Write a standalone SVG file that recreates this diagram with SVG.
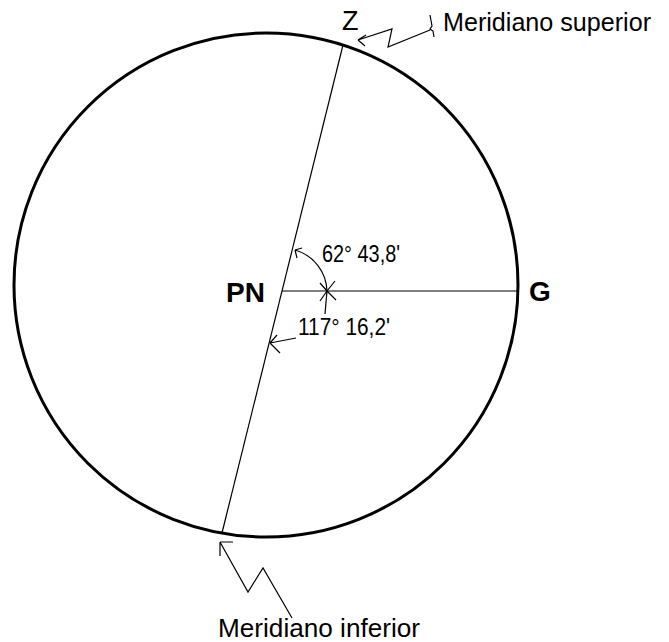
<svg xmlns="http://www.w3.org/2000/svg" width="669" height="642" viewBox="0 0 669 642">
<style>
.thin{fill:none;stroke:#000;stroke-width:1.2}
.lbl{font-family:"Liberation Sans",Arial,sans-serif;fill:#000}
</style>
<rect width="669" height="642" fill="#fff"/>
<g id="circle"><circle cx="266" cy="285" r="252" fill="none" stroke="#000" stroke-width="3"/></g>
<g id="connectors" class="thin">
<line x1="343" y1="45" x2="222" y2="533"/>
<line x1="282" y1="291" x2="518" y2="291"/>
<path d="M295,250 A44,44 0 0,1 327,291"/>
<path d="M295,250 L302,248 M295,250 L297,258"/>
<path d="M327,291 L320,283 M327,291 L335,281 M327,291 L320,301 M327,291 L336,300 M327,291 L325,314"/>
<path d="M270,343 L296,338 M270,343 L277,335 M270,343 L280,353"/>
<path d="M358,40 L392,29 L388,47 L430,30 M358,40 L366,35 M358,40 L365,46"/>
<path d="M430,15 L432,26 L430,29 L433,31 L434,37"/>
<path d="M220,542 L248,592 L263,568 L292,618 M220,542 L233,542 M220,542 L220,556"/>
</g>
<g id="Z"><text class="lbl" x="342" y="30" font-size="27">Z</text></g>
<g id="PN"><text class="lbl" x="226" y="302" font-size="28" font-weight="bold">PN</text></g>
<g id="G"><text class="lbl" x="529" y="301" font-size="28" font-weight="bold">G</text></g>
<g id="a1"><text class="lbl" x="322" y="262" font-size="24" textLength="78" lengthAdjust="spacingAndGlyphs">62° 43,8'</text></g>
<g id="a2"><text class="lbl" x="298" y="335" font-size="24" textLength="92" lengthAdjust="spacingAndGlyphs">117° 16,2'</text></g>
<g id="sup"><text class="lbl" x="443" y="31" font-size="25" textLength="208" lengthAdjust="spacingAndGlyphs">Meridiano superior</text></g>
<g id="inf"><text class="lbl" x="218" y="637" font-size="25" textLength="202" lengthAdjust="spacingAndGlyphs">Meridiano inferior</text></g>
</svg>
